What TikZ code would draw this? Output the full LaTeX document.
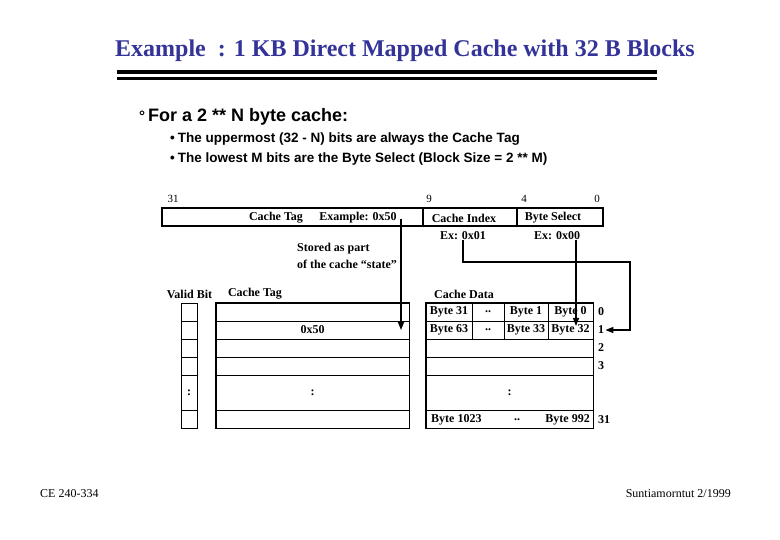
\documentclass[tikz,border=0pt]{standalone}
\usepackage{fontspec}
\setmainfont{Liberation Serif}
\setsansfont{Liberation Sans}
\usepackage{xcolor}
\usetikzlibrary{arrows.meta, positioning}
\definecolor{titleblue}{RGB}{51,51,153}

\begin{document}
\begin{tikzpicture}[
  x=1pt, y=-1pt,
  cell/.style={
    rectangle, draw=black, line width=0.8pt,
    minimum height=18pt, inner sep=0pt,
    font=\fontsize{12}{14}\selectfont\bfseries
  },
  lbl/.style={font=\fontsize{12}{14}\selectfont\bfseries, inner sep=0pt},
  bitno/.style={font=\fontsize{11}{13}\selectfont, inner sep=0pt},
  bul/.style={font=\sffamily\bfseries\fontsize{13.5}{16}\selectfont, anchor=west, inner sep=0pt},
  arrow/.style={-{Triangle[length=8pt,width=6pt]}, line width=1.4pt},
  frame/.style={line width=1.8pt}
]
\useasboundingbox (0,0) rectangle (780,540);

% --- Title ---
\node[font=\fontsize{24}{28}\selectfont\bfseries, text=titleblue] (title) at (405,51)
  {Example\ \ : 1 KB Direct Mapped Cache with 32 B Blocks};
\draw[line width=3.5pt] (117,72) -- (657,72);
\draw[line width=3.5pt] (117,78.5) -- (657,78.5);

% --- Text lines ---
\node[bul, font=\sffamily\bfseries\fontsize{18}{21}\selectfont] (head) at (139,117)
  {{\fontsize{15}{17}\selectfont\textdegree}\hspace{3pt}For a 2 ** N byte cache:};
\node[bul] (b1) at (170,139) {\textbullet\hspace{3pt}The uppermost (32 - N) bits are always the Cache Tag};
\node[bul] (b2) at (170,159) {\textbullet\hspace{3pt}The lowest M bits are the Byte Select (Block Size = 2 ** M)};

% --- Address fields ---
\node[bitno] (n31) at (173,199) {31};
\node[bitno] (n9)  at (429,199) {9};
\node[bitno] (n4)  at (524,199) {4};
\node[bitno] (n0)  at (597,199) {0};

\node[cell, frame, minimum width=261pt] (tagf)  at (292.5,217) {};
\node[cell, frame, minimum width=94pt]  (idxf)  at (470,217)   {};
\node[cell, frame, minimum width=86pt]  (bytef) at (560,217)   {};
\node[lbl] (tagtxt) at (276,218) {Cache Tag};
\node[lbl] (exttxt) at (358,218) {Example: 0x50};
\node[lbl] (idxtxt) at (464,218) {Cache Index};
\node[lbl] (bsetxt) at (553,218) {Byte Select};
\node[lbl] (exidx)  at (463,236) {Ex: 0x01};
\node[lbl] (exbyte) at (557,236) {Ex: 0x00};
\node[lbl, anchor=west] (st1) at (297,249) {Stored as part};
\node[lbl, anchor=west] (st2) at (297,264) {of the cache \textquotedblleft state\textquotedblright};

% --- Column heads ---
\node[lbl] (vhead) at (189.5,294) {Valid Bit};
\node[lbl] (thead) at (255,294)   {Cache Tag};
\node[lbl] (dhead) at (464,294)   {Cache Data};

% --- Valid bits ---
\node[cell, minimum width=16pt] (v0) at (189,312) {};
\node[cell, minimum width=16pt] (v1) at (189,330) {};
\node[cell, minimum width=16pt] (v2) at (189,348) {};
\node[cell, minimum width=16pt] (v3) at (189,366) {};
\node[cell, minimum width=16pt, minimum height=35pt] (v4) at (189,392.5) {:};
\node[cell, minimum width=16pt] (v5) at (189,419) {};

% --- Cache tags ---
\node[cell, minimum width=193pt] (t0) at (312.5,312) {};
\node[cell, minimum width=193pt] (t1) at (312.5,330) {0x50};
\node[cell, minimum width=193pt] (t2) at (312.5,348) {};
\node[cell, minimum width=193pt] (t3) at (312.5,366) {};
\node[cell, minimum width=193pt, minimum height=35pt] (t4) at (312.5,392.5) {:};
\node[cell, minimum width=193pt] (t5) at (312.5,419) {};
\draw[frame] (t0.north west) rectangle (t5.south east);

% --- Cache data ---
\node[cell, minimum width=46pt] (d00) at (449,312)   {Byte 31};
\node[cell, minimum width=32pt] (d01) at (488,312)   {..};
\node[cell, minimum width=44pt] (d02) at (526,312)   {Byte 1};
\node[cell, minimum width=45pt] (d03) at (570.5,312) {Byte 0};
\node[cell, minimum width=46pt] (d10) at (449,330)   {Byte 63};
\node[cell, minimum width=32pt] (d11) at (488,330)   {..};
\node[cell, minimum width=44pt] (d12) at (526,330)   {Byte 33};
\node[cell, minimum width=45pt] (b32) at (570.5,330) {Byte 32};
\node[cell, minimum width=167pt] (d2) at (509.5,348) {};
\node[cell, minimum width=167pt] (d3) at (509.5,366) {};
\node[cell, minimum width=167pt, minimum height=35pt] (d4) at (509.5,392.5) {:};
\node[cell, minimum width=167pt] (d5) at (509.5,419) {};
\node[lbl, anchor=west] (lo) at (431,420) {Byte 1023};
\node[lbl] (ldots) at (517,420) {..};
\node[lbl, anchor=east] (hi) at (590,420) {Byte 992};
\draw[frame] (d00.north west) rectangle (d5.south east);

% --- Row numbers ---
\node[lbl, anchor=west] (r0)  at (598,312) {0};
\node[lbl, anchor=west] (r1)  at (598,330) {1};
\node[lbl, anchor=west] (r2)  at (598,348) {2};
\node[lbl, anchor=west] (r3)  at (598,366) {3};
\node[lbl, anchor=west] (r31) at (598,420) {31};

% Arrows
\coordinate (tap)  at (401,219);
\coordinate (turn) at (630,262);
\draw[arrow] (tap) -- (tap |- t1.center);
\draw[arrow] (exidx.south) |- (turn) |- ([xshift=1pt]r1.east);
\draw[arrow] (exbyte.south -| 576,0) -- (576,326);

% --- Footer ---
\node[font=\fontsize{12}{14}\selectfont, anchor=west, inner sep=0pt] (ftl) at (40,494) {CE 240-334};
\node[font=\fontsize{12}{14}\selectfont, anchor=east, inner sep=0pt] (ftr) at (731,494) {Suntiamorntut 2/1999};

\end{tikzpicture}
\end{document}
